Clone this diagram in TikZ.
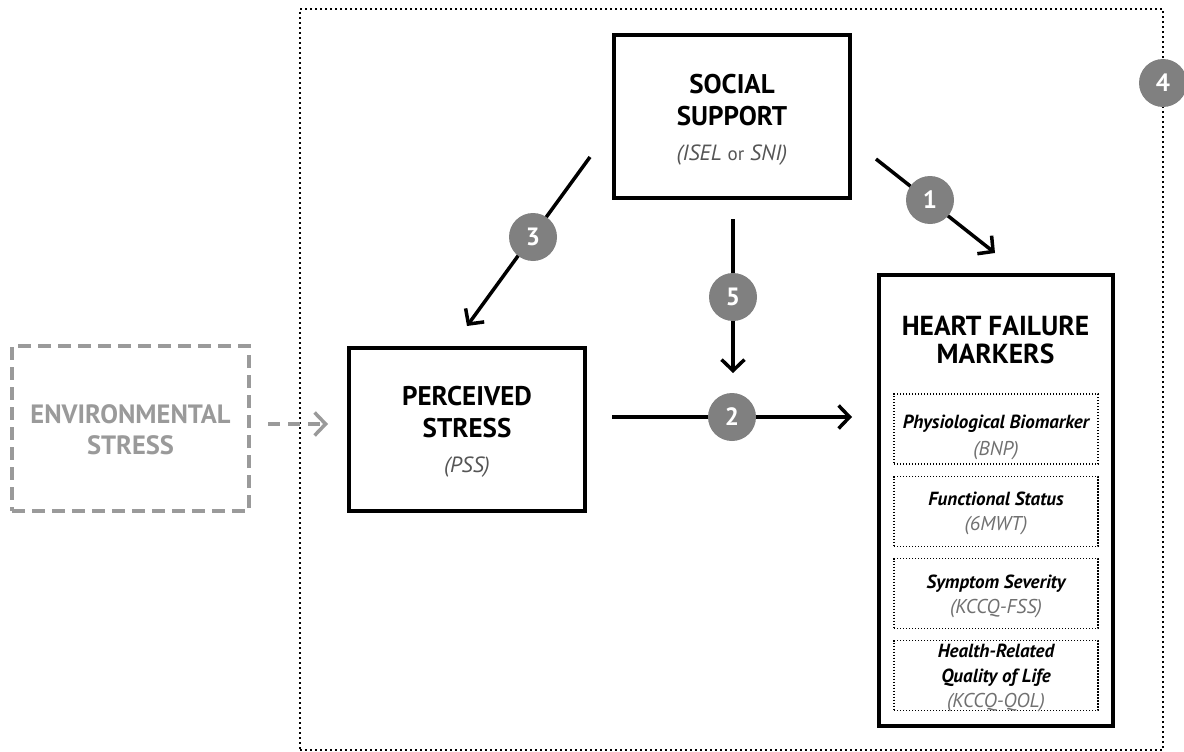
\documentclass[tikz,border=0pt]{standalone}
\usepackage{fontspec}
\setmainfont{PT Sans}
\usetikzlibrary{arrows.meta}
\definecolor{badgegray}{HTML}{808080}
\definecolor{envgray}{HTML}{9A9A9A}
\definecolor{subgray}{HTML}{555555}
\definecolor{lightsub}{HTML}{707070}
\newcommand\myfs[2]{\fontsize{#1}{#2}\selectfont}
\begin{document}
\begin{tikzpicture}[x=1pt,y=-1pt,
  mainbox/.style={draw, line width=4pt, inner sep=0pt, outer sep=0pt},
  subbox/.style={draw, line width=1.4pt, dash pattern=on 1.4pt off 1.6pt, inner sep=0pt, minimum width=204pt, minimum height=70pt},
  envbox/.style={draw=envgray, line width=4pt, dash pattern=on 13pt off 7pt, inner sep=0pt, minimum width=237pt, minimum height=165pt},
  frame/.style={draw, line width=2pt, dash pattern=on 2pt off 3pt, inner sep=0pt},
  bigtitle/.style={anchor=base, inner sep=0pt, font=\bfseries\myfs{27}{27}},
  hftitle/.style={anchor=base, inner sep=0pt, font=\bfseries\myfs{27.5}{27.5}},
  envtitle/.style={anchor=base, inner sep=0pt, text=envgray, font=\bfseries\myfs{26.5}{26.5}},
  subtitle/.style={anchor=base, inner sep=0pt, text=subgray, font=\itshape\myfs{22}{22}},
  smalltitle/.style={anchor=base, inner sep=0pt, font=\bfseries\itshape\myfs{19}{19}},
  smallsub/.style={anchor=base, inner sep=0pt, text=lightsub, font=\itshape\myfs{20}{20}},
  link/.style={line width=3.5pt, -{Straight Barb[length=11pt,width=23pt]}},
  envlink/.style={draw=envgray, line width=3.5pt, dash pattern=on 12pt off 8pt, -{Straight Barb[length=11pt,width=23pt]}},
  badge/.style={circle, fill=badgegray, minimum size=48pt, inner sep=0pt, text=white, font=\bfseries\myfs{25}{25}}
]
\useasboundingbox (0,0) rectangle (1184,752);
% outer frame
\node[frame, minimum width=863pt, minimum height=741pt] (fr) at (731.5,379.5) {};
% main boxes
\node[mainbox, minimum width=235.5pt, minimum height=163pt] (ss) at (732,116.5) {};
\node[mainbox, minimum width=235.5pt, minimum height=163pt] (ps) at (467,429.5) {};
\node[mainbox, minimum width=234.5pt, minimum height=450.5pt] (hf) at (995.75,500.25) {};
\node[envbox] (es) at (130.5,428.5) {};
% texts
\node[bigtitle] (ss1) at (732,93) {SOCIAL};
\node[bigtitle] (ss2) at (732,125) {SUPPORT};
\node[subtitle] (ss3) at (732,160) {(ISEL \upshape\myfs{19}{19}or\itshape\myfs{22}{22} SNI)};
\node[bigtitle] (ps1) at (467,405) {PERCEIVED};
\node[bigtitle] (ps2) at (467,437) {STRESS};
\node[subtitle] (ps3) at (467,472) {(PSS)};
\node[envtitle] (es1) at (130.5,423) {ENVIRONMENTAL};
\node[envtitle] (es2) at (130.5,454) {STRESS};
\node[hftitle] (hf1) at (995.5,335) {HEART FAILURE};
\node[hftitle] (hf2) at (995.5,363) {MARKERS};
% sub boxes
\node[subbox] (m1) at (996,429) {};
\node[subbox] (m2) at (996,511.5) {};
\node[subbox] (m3) at (996,593.5) {};
\node[subbox] (m4) at (996,675.5) {};
\node[smalltitle] (m1a) at (996,428) {Physiological Biomarker};
\node[smallsub] (m1b) at (996,455) {(BNP)};
\node[smalltitle] (m2a) at (996,505) {Functional Status};
\node[smallsub] (m2b) at (996,530) {(6MWT)};
\node[smalltitle] (m3a) at (996,588) {Symptom Severity};
\node[smallsub] (m3b) at (996,613) {(KCCQ-FSS)};
\node[smalltitle] (m4a) at (996,657) {Health-Related};
\node[smalltitle] (m4b) at (996,682) {Quality of Life};
\node[smallsub] (m4c) at (996,707) {(KCCQ-QOL)};
% connector ends
\coordinate (a1s) at (876,159);
\coordinate (a1e) at (995,253);
\coordinate (a2s) at (612,417);
\coordinate (a2e) at (852,417);
\coordinate (a3s) at (590,157);
\coordinate (a3e) at (467,326);
\coordinate (a5s) at (733,219);
\coordinate (a5e) at (733,373);
\coordinate (e1s) at (268,424);
\coordinate (e1e) at (328,424);
\draw[link] (a1s) -- (a1e);
\draw[link] (a2s) -- (a2e);
\draw[link] (a3s) -- (a3e);
\draw[link] (a5s) -- (a5e);
\draw[envlink] (e1s) -- (e1e);
% badges
\node[badge] (b1) at (930,200) {1};
\node[badge] (b2) at (732,417) {2};
\node[badge] (b3) at (533,237) {3};
\node[badge] (b4) at (1163,83) {4};
\node[badge] (b5) at (733,297) {5};
\end{tikzpicture}
\end{document}
